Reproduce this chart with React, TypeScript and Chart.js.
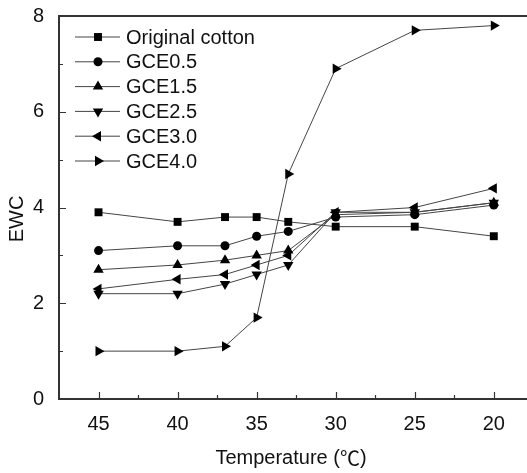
import React, { useEffect, useRef } from 'react';
import { Chart, registerables } from 'chart.js';

Chart.register(...registerables);

// Temperatures (°C) at which EWC was measured
const temperatures = [45, 40, 37, 35, 33, 30, 25, 20];

// EWC per sample
const originalCotton = [3.9, 3.7, 3.8, 3.8, 3.7, 3.6, 3.6, 3.4];
const gce05 = [3.1, 3.2, 3.2, 3.4, 3.5, 3.8, 3.85, 4.05];
const gce15 = [2.7, 2.8, 2.9, 3.0, 3.1, 3.85, 3.9, 4.1];
const gce25 = [2.2, 2.2, 2.4, 2.6, 2.8, 3.9, 3.9, 4.1];
const gce30 = [2.3, 2.5, 2.6, 2.8, 3.0, 3.9, 4.0, 4.4];
const gce40 = [1.0, 1.0, 1.1, 1.7, 4.7, 6.9, 7.7, 7.8];

const seriesLabels = ['Original cotton', 'GCE0.5', 'GCE1.5', 'GCE2.5', 'GCE3.0', 'GCE4.0'];
const xTicks = [45, 40, 35, 30, 25, 20];
const yMin = 0;
const yMax = 8;
const xTitle = 'Temperature (';
const xTitleUnit = '℃';
const yTitle = 'EWC';

const FONT = '"Liberation Sans", Arial, sans-serif';
const CJK_FONT = '"Noto Sans CJK SC", sans-serif';
const AXIS_COLOR = '#333';
const TEXT_COLOR = '#111';

type Marker = { style: string; rotation: number; radius: number };
const markers: Marker[] = [
  { style: 'rect', rotation: 0, radius: 5.6 },
  { style: 'circle', rotation: 0, radius: 4.5 },
  { style: 'triangle', rotation: 0, radius: 6 },
  { style: 'triangle', rotation: 180, radius: 6 },
  { style: 'triangle', rotation: 270, radius: 6 },
  { style: 'triangle', rotation: 90, radius: 6 },
];

function drawMarker(ctx: CanvasRenderingContext2D, m: Marker, x: number, y: number) {
  ctx.save();
  ctx.translate(x, y);
  ctx.rotate((m.rotation * Math.PI) / 180);
  ctx.beginPath();
  const r = m.radius;
  if (m.style === 'rect') {
    const s = r * Math.SQRT1_2;
    ctx.rect(-s, -s, 2 * s, 2 * s);
  } else if (m.style === 'circle') {
    ctx.arc(0, 0, r, 0, Math.PI * 2);
  } else {
    ctx.moveTo(0, -r);
    ctx.lineTo(r * Math.sin(Math.PI / 3), r * 0.5);
    ctx.lineTo(-r * Math.sin(Math.PI / 3), r * 0.5);
    ctx.closePath();
  }
  ctx.fillStyle = '#000';
  ctx.fill();
  ctx.restore();
}

// Frame top edge, inward tick marks, axis titles and the line+marker legend
const decorPlugin = {
  id: 'decor',
  afterDraw(chart: any) {
    const { ctx, chartArea: a, scales } = chart;
    const xs = scales.x;
    const ys = scales.y;
    ctx.save();
    ctx.strokeStyle = AXIS_COLOR;
    ctx.lineWidth = 2;
    ctx.beginPath();
    ctx.moveTo(a.left - 1, a.top);
    ctx.lineTo(a.right, a.top);
    ctx.stroke();

    ctx.lineWidth = 1.2;
    ctx.beginPath();
    for (let v = 47.5; v >= 17.5; v -= 2.5) {
      const px = Math.round(xs.getPixelForValue(v)) + 0.5;
      if (px < a.left + 2 || px > a.right - 1) continue;
      const major = Math.abs(v % 5) < 1e-6;
      ctx.moveTo(px, a.bottom);
      ctx.lineTo(px, a.bottom - (major ? 7 : 4));
    }
    for (let v = yMin + 1; v < yMax; v += 1) {
      const py = Math.round(ys.getPixelForValue(v)) + 0.5;
      const major = v % 2 === 0;
      ctx.moveTo(a.left, py);
      ctx.lineTo(a.left + (major ? 7 : 4), py);
    }
    ctx.stroke();

    // axis titles
    ctx.fillStyle = TEXT_COLOR;
    ctx.textBaseline = 'middle';
    ctx.font = `20px ${FONT}`;
    const w1 = ctx.measureText(xTitle).width;
    ctx.font = `20px ${CJK_FONT}`;
    const w2 = ctx.measureText(xTitleUnit).width;
    ctx.font = `20px ${FONT}`;
    const w3 = ctx.measureText(')').width;
    const cx = (a.left + a.right) / 2 - 2;
    let tx = cx - (w1 + w2 + w3) / 2;
    const tyTitle = 458;
    ctx.textAlign = 'left';
    ctx.fillText(xTitle, tx, tyTitle);
    tx += w1;
    ctx.font = `20px ${CJK_FONT}`;
    ctx.fillText(xTitleUnit, tx, tyTitle);
    tx += w2;
    ctx.font = `20px ${FONT}`;
    ctx.fillText(')', tx, tyTitle);

    ctx.save();
    ctx.translate(17, 219);
    ctx.rotate(-Math.PI / 2);
    ctx.textAlign = 'center';
    ctx.fillText(yTitle, 0, 0);
    ctx.restore();

    // legend
    const lx0 = 75;
    const lx1 = 120;
    const mx = 98;
    const ty = 37;
    const rowH = 24.8;
    ctx.font = `20px ${FONT}`;
    ctx.textBaseline = 'middle';
    ctx.textAlign = 'left';
    chart.data.datasets.forEach((ds: any, i: number) => {
      const y = ty + i * rowH;
      ctx.strokeStyle = '#444';
      ctx.lineWidth = 1;
      ctx.beginPath();
      ctx.moveTo(lx0, y);
      ctx.lineTo(lx1, y);
      ctx.stroke();
      drawMarker(ctx, markers[i], mx, y);
      ctx.fillStyle = TEXT_COLOR;
      ctx.fillText(ds.label, 126, y + 1);
    });
    ctx.restore();
  },
};

export default function App() {
  const canvasRef = useRef<HTMLCanvasElement | null>(null);

  useEffect(() => {
    document.body.style.margin = '0';
    const canvas = canvasRef.current;
    if (!canvas) return;
    const values = [originalCotton, gce05, gce15, gce25, gce30, gce40];
    const datasets = values.map((vals, i) => ({
      label: seriesLabels[i],
      data: temperatures.map((t, j) => ({ x: t, y: vals[j] })),
      borderColor: '#444',
      borderWidth: 1,
      backgroundColor: '#000',
      pointBackgroundColor: '#000',
      pointBorderColor: '#000',
      pointBorderWidth: 0,
      pointStyle: markers[i].style,
      pointRotation: markers[i].rotation,
      pointRadius: markers[i].radius,
      tension: 0,
      fill: false,
      clip: false,
    }));

    const chart = new Chart(canvas, {
      type: 'line',
      data: { datasets },
      plugins: [decorPlugin],
      options: {
        animation: false,
        responsive: false,
        maintainAspectRatio: false,
        layout: { autoPadding: false, padding: { top: 16, right: 0, left: 0, bottom: 0 } },
        plugins: {
          legend: { display: false },
          tooltip: { enabled: false },
        },
        scales: {
          x: {
            type: 'linear',
            reverse: true,
            min: 17.9,
            max: 47.5,
            afterBuildTicks: (scale: any) => {
              scale.ticks = xTicks.map((v) => ({ value: v }));
            },
            afterFit: (scale: any) => {
              scale.height = 74;
              scale.paddingLeft = 0;
              scale.paddingRight = 0;
            },
            grid: { display: false },
            border: { display: true, color: AXIS_COLOR, width: 2 },
            ticks: {
              autoSkip: false,
              maxRotation: 0,
              padding: 5,
              color: TEXT_COLOR,
              font: { family: FONT, size: 20 },
              callback: (v: any) => String(v),
            },
          },
          y: {
            type: 'linear',
            min: yMin,
            max: yMax,
            afterFit: (scale: any) => {
              scale.width = 59;
              scale.paddingTop = 0;
              scale.paddingBottom = 0;
            },
            grid: { display: false },
            border: { display: true, color: AXIS_COLOR, width: 2 },
            ticks: {
              stepSize: 2,
              padding: 7,
              color: TEXT_COLOR,
              font: { family: FONT, size: 20 },
            },
          },
        },
      } as any,
    });
    return () => chart.destroy();
  }, []);

  return (
    <div style={{ width: 527, height: 473, overflow: 'hidden', background: '#fff' }}>
      <canvas ref={canvasRef} width={527} height={473} style={{ display: 'block' }} />
    </div>
  );
}
